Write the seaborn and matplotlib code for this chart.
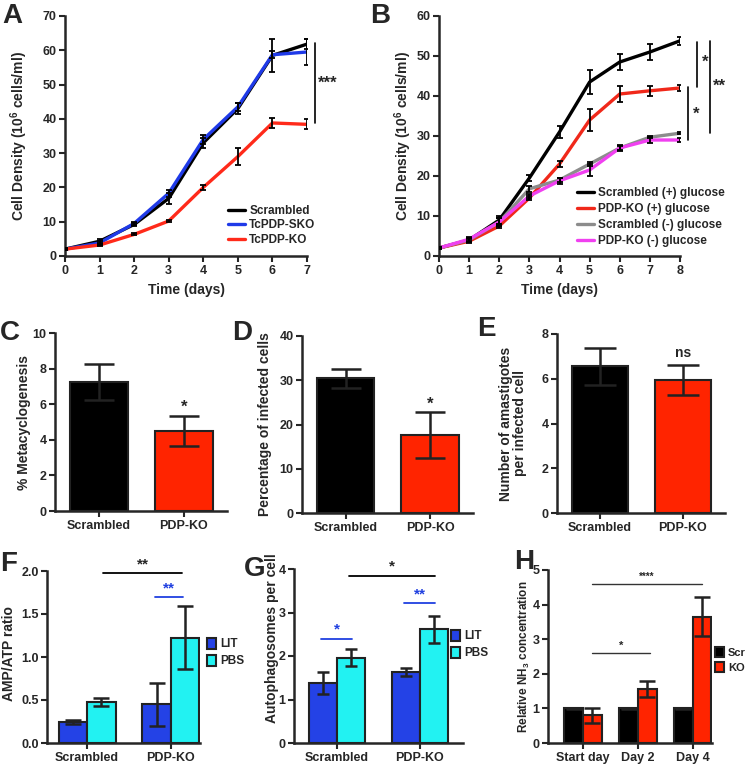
import numpy as np
import pandas as pd
import seaborn as sns
import matplotlib.pyplot as plt

# ---- data ----
days_a = [0, 1, 2, 3, 4, 5, 6, 7]
scr_a = [2, 4.3, 9.2, 16.8, 33, 43, 58.5, 61.8]
scr_a_err = [0.3, 0.6, 0.5, 1.5, 1.5, 1.5, 4.8, 1.4]
sko_a = [2, 3.8, 9.5, 18.3, 34, 43.5, 58.7, 59.5]
sko_a_err = [0.3, 0.5, 0.5, 1.0, 1.2, 1.2, 1.0, 3.8]
ko_a = [2, 3.2, 6.3, 10.2, 20, 29, 38.8, 38.4]
ko_a_err = [0.2, 0.3, 0.3, 0.3, 0.8, 2.5, 1.5, 1.5]

days_b = [0, 1, 2, 3, 4, 5, 6, 7, 8]
scr_glc = [2, 4, 9, 19.5, 31, 43.5, 48.5, 51, 53.8]
scr_glc_err = [0.3, 0.5, 1.0, 0.8, 1.5, 3.0, 2.0, 2.0, 1.0]
ko_glc = [2, 3.7, 7.5, 14.5, 23, 34, 40.5, 41.3, 42]
ko_glc_err = [0.3, 0.5, 0.5, 0.5, 0.8, 2.8, 2.0, 1.2, 0.7]
scr_noglc = [2, 4, 8.5, 16.8, 19, 23, 27, 29.7, 30.7]
scr_noglc_err = [0.3, 0.5, 1.0, 0.8, 0.5, 0.5, 0.5, 0.3, 0.3]
ko_noglc = [2, 4.2, 8.5, 15, 18.8, 21.5, 27, 29, 29]
ko_noglc_err = [0.3, 0.5, 1.0, 0.5, 0.8, 1.5, 0.8, 0.8, 0.6]

strains = ["Scrambled", "PDP-KO"]
metacyclo = [7.25, 4.5]
metacyclo_err = [1.0, 0.83]
infected = [30.4, 17.6]
infected_err = [2.1, 5.2]
amastigotes = [6.55, 5.95]
amastigotes_err = [0.82, 0.67]

media = ["LIT", "PBS"]
amp_atp = {"LIT": [0.245, 0.45], "PBS": [0.476, 1.225]}
amp_atp_err = {"LIT": [0.02, 0.25], "PBS": [0.05, 0.37]}
autoph = {"LIT": [1.38, 1.63], "PBS": [1.96, 2.62]}
autoph_err = {"LIT": [0.25, 0.10], "PBS": [0.19, 0.31]}

nh3_days = ["Start day", "Day 2", "Day 4"]
nh3_groups = ["Scrambled", "KO"]
nh3 = {"Scrambled": [1.0, 1.0, 1.0], "KO": [0.8, 1.56, 3.65]}
nh3_err = {"Scrambled": [0.01, 0.01, 0.01], "KO": [0.22, 0.24, 0.56]}

# ---- style ----
sns.set_style("ticks")
plt.rcParams["font.family"] = ["Liberation Sans Narrow", "Liberation Sans", "DejaVu Sans"]
plt.rcParams["font.weight"] = "bold"
plt.rcParams["axes.labelweight"] = "bold"
plt.rcParams["axes.linewidth"] = 1.8
plt.rcParams["xtick.major.width"] = 1.5
plt.rcParams["ytick.major.width"] = 1.5
plt.rcParams["xtick.major.size"] = 4
plt.rcParams["ytick.major.size"] = 4
plt.rcParams["xtick.major.pad"] = 2.5
plt.rcParams["ytick.major.pad"] = 2
plt.rcParams["xtick.labelsize"] = 9
plt.rcParams["ytick.labelsize"] = 9
plt.rcParams["axes.labelsize"] = 9.5
plt.rcParams["mathtext.default"] = "regular"

W, H = 745, 764
fig = plt.figure(figsize=(W / 100, H / 100), dpi=100)


def add_ax(left, right, top, bottom):
    return fig.add_axes([left / W, 1 - bottom / H, (right - left) / W, (bottom - top) / H])


def fx(x):
    return x / W


def fy(y):
    return 1 - y / H


def ylab(ax, text, xpx, left, right, yfrac=0.5, size=None):
    # xpx is the right edge of the rotated label in figure pixels
    ax.set_ylabel(text, fontsize=size)
    ax.yaxis.set_label_coords((xpx - left) / (right - left), yfrac)


def finish(ax):
    sns.despine(ax=ax)
    for lab in ax.get_xticklabels() + ax.get_yticklabels():
        lab.set_fontweight("bold")


red_bar = "#ff2400"
blue_bar = "#2442e6"
cyan_bar = "#22f2f2"
leg_font = {"weight": "bold", "size": 8.5}

# ---- A ----
axA = add_ax(65, 307, 16, 256)
dfa = pd.DataFrame({
    "day": days_a * 3,
    "density": scr_a + sko_a + ko_a,
    "group": ["Scrambled"] * 8 + ["TcPDP-SKO"] * 8 + ["TcPDP-KO"] * 8,
})
pal_a = {"Scrambled": "black", "TcPDP-SKO": "#1f3ae8", "TcPDP-KO": "#ff2a1a"}
sns.lineplot(data=dfa, x="day", y="density", hue="group", palette=pal_a,
             lw=2.4, ax=axA, errorbar=None)
for y, e in [(scr_a, scr_a_err), (sko_a, sko_a_err), (ko_a, ko_a_err)]:
    axA.errorbar(days_a, y, yerr=e, fmt="none", ecolor="black", elinewidth=1.3,
                 capsize=2.5, capthick=1.3, zorder=5)
axA.set_xlim(0, 7)
axA.set_ylim(0, 70)
axA.set_xticks(range(0, 8))
axA.set_yticks(range(0, 71, 10))
axA.set_xlabel("Time (days)", fontsize=10)
ylab(axA, "Cell Density (10$^6$ cells/ml)", 30, 65, 307)
axA.legend(loc="upper left", bbox_to_anchor=(fx(228), fy(205)), bbox_transform=fig.transFigure,
           frameon=False, borderpad=0, borderaxespad=0, handlelength=1.4, handletextpad=0.4,
           labelspacing=0.2, prop=leg_font)
axA.plot([7.23, 7.23], [38.8, 62], color="black", lw=1.2, clip_on=False)
axA.text(7.32, 50.5, "***", fontsize=12, va="center", ha="left")
finish(axA)

# ---- B ----
axB = add_ax(439, 680, 16, 256)
dfb = pd.DataFrame({
    "day": days_b * 4,
    "density": scr_glc + ko_glc + scr_noglc + ko_noglc,
    "group": ["Scrambled (+) glucose"] * 9 + ["PDP-KO (+) glucose"] * 9
    + ["Scrambled (-) glucose"] * 9 + ["PDP-KO (-) glucose"] * 9,
})
pal_b = {"Scrambled (+) glucose": "black", "PDP-KO (+) glucose": "#f0281a",
         "Scrambled (-) glucose": "#8c8c8c", "PDP-KO (-) glucose": "#f040f0"}
sns.lineplot(data=dfb, x="day", y="density", hue="group", palette=pal_b,
             lw=2.4, ax=axB, errorbar=None)
for y, e in [(scr_glc, scr_glc_err), (ko_glc, ko_glc_err),
             (scr_noglc, scr_noglc_err), (ko_noglc, ko_noglc_err)]:
    axB.errorbar(days_b, y, yerr=e, fmt="none", ecolor="black", elinewidth=1.3,
                 capsize=2.5, capthick=1.3, zorder=5)
axB.set_xlim(0, 8)
axB.set_ylim(0, 60)
axB.set_xticks(range(0, 9))
axB.set_yticks(range(0, 61, 10))
axB.set_xlabel("Time (days)", fontsize=10)
ylab(axB, "Cell Density (10$^6$ cells/ml)", 414, 439, 680)
axB.legend(loc="upper left", bbox_to_anchor=(fx(577), fy(187)), bbox_transform=fig.transFigure,
           frameon=False, borderpad=0, borderaxespad=0, handlelength=1.4, handletextpad=0.4,
           labelspacing=0.35, prop=leg_font)
axB.plot([8.57, 8.57], [42.2, 53.5], color="black", lw=1.2, clip_on=False)
axB.text(8.72, 48.5, "*", fontsize=12, va="center", ha="left")
axB.plot([8.27, 8.27], [29.0, 42.2], color="black", lw=1.2, clip_on=False)
axB.text(8.42, 35.5, "*", fontsize=12, va="center", ha="left")
axB.plot([9.0, 9.0], [30.8, 53.7], color="black", lw=1.2, clip_on=False)
axB.text(9.1, 42.5, "**", fontsize=12, va="center", ha="left")
finish(axB)


# ---- C, D, E ----
def simple_bars(ax, vals, errs, lim, ticks, capsize):
    sns.barplot(x=strains, y=vals, hue=strains, palette=["black", red_bar], width=0.68,
                saturation=1, edgecolor="#222222", linewidth=1.5, legend=False, ax=ax)
    for bar, e in zip(ax.patches, errs):
        cx = bar.get_x() + bar.get_width() / 2
        ax.errorbar([cx], [bar.get_height()], yerr=[e], fmt="none", ecolor="#222222",
                    elinewidth=1.8, capsize=capsize, capthick=1.8, zorder=5)
    ax.set_xlim(-0.52, 1.51)
    ax.set_ylim(*lim)
    ax.set_yticks(ticks)
    ax.set_xlabel("")


axC = add_ax(55, 227, 333, 511)
simple_bars(axC, metacyclo, metacyclo_err, (0, 10), range(0, 11, 2), 10.5)
ylab(axC, "% Metacyclogenesis", 31, 55, 227)
axC.text(1, 5.8, "*", ha="center", va="center", fontsize=12)
finish(axC)

axD = add_ax(302, 473, 336, 513)
simple_bars(axD, infected, infected_err, (0, 40), range(0, 41, 10), 10.5)
ylab(axD, "Percentage of infected cells", 272, 302, 473)
axD.text(1, 24.6, "*", ha="center", va="center", fontsize=12)
finish(axD)

axE = add_ax(557, 725, 334, 513)
simple_bars(axE, amastigotes, amastigotes_err, (0, 8), range(0, 9, 2), 11.5)
ylab(axE, "Number of amastigotes\nper infected cell", 527, 557, 725)
axE.yaxis.label.set_linespacing(1.0)
axE.text(1, 7.15, "ns", ha="center", va="center", fontsize=10)
finish(axE)


# ---- F, G, H ----
def grouped_bars(ax, cats, hues, vals, errs, colors, capsize):
    df = pd.DataFrame({
        "cat": [c for h in hues for c in cats],
        "hue": [h for h in hues for c in cats],
        "val": [v for h in hues for v in vals[h]],
    })
    sns.barplot(data=df, x="cat", y="val", hue="hue", palette=colors, width=0.68,
                saturation=1, edgecolor="#222222", linewidth=1.5, ax=ax)
    for cont, h in zip(ax.containers, hues):
        for bar, e in zip(cont, errs[h]):
            cx = bar.get_x() + bar.get_width() / 2
            ax.errorbar([cx], [bar.get_height()], yerr=[e], fmt="none", ecolor="#222222",
                        elinewidth=1.8, capsize=capsize, capthick=1.8, zorder=5)
    ax.set_xlabel("")


def bar_legend(ax, xpx, ypx, size=8.5):
    sns.move_legend(ax, "upper left", bbox_to_anchor=(fx(xpx), fy(ypx)),
                    bbox_transform=fig.transFigure, frameon=False, title=None,
                    borderpad=0, borderaxespad=0, handlelength=0.8, handleheight=1.0,
                    handletextpad=0.35, labelspacing=0.4,
                    prop={"weight": "bold", "size": size})


axF = add_ax(47, 200, 571, 743)
grouped_bars(axF, strains, media, amp_atp, amp_atp_err, [blue_bar, cyan_bar], 6)
axF.set_xlim(-0.48, 1.35)
axF.set_ylim(0, 2.0)
axF.set_yticks([0, 0.5, 1.0, 1.5, 2.0])
ylab(axF, "AMP/ATP ratio", 16, 47, 200, 0.52)
bar_legend(axF, 207, 638)
axF.plot([0.19, 1.14], [1.98, 1.98], color="black", lw=1.3, clip_on=False)
axF.text(0.665, 2.0, "**", ha="center", va="bottom", fontsize=11)
axF.plot([0.81, 1.15], [1.70, 1.70], color="#2040e0", lw=1.3, clip_on=False)
axF.text(0.98, 1.72, "**", ha="center", va="bottom", fontsize=11, color="#2040e0")
finish(axF)

axG = add_ax(294, 463, 569, 743)
grouped_bars(axG, strains, media, autoph, autoph_err, [blue_bar, cyan_bar], 4.5)
axG.set_xlim(-0.52, 1.52)
axG.set_ylim(0, 4)
axG.set_yticks(range(0, 5))
ylab(axG, "Autophagosomes per cell", 279, 294, 463, 0.6)
bar_legend(axG, 451, 630)
axG.plot([0.145, 1.18], [3.85, 3.85], color="black", lw=1.3, clip_on=False)
axG.text(0.66, 3.9, "*", ha="center", va="bottom", fontsize=11)
axG.plot([-0.19, 0.18], [2.39, 2.39], color="#2040e0", lw=1.3)
axG.text(0.0, 2.44, "*", ha="center", va="bottom", fontsize=11, color="#2040e0")
axG.plot([0.81, 1.18], [3.21, 3.21], color="#2040e0", lw=1.3)
axG.text(0.995, 3.26, "**", ha="center", va="bottom", fontsize=11, color="#2040e0")
finish(axG)

axH = add_ax(548, 712, 570, 743)
grouped_bars(axH, nh3_days, nh3_groups, nh3, nh3_err, ["black", red_bar], 6)
axH.set_xlim(-0.64, 2.35)
axH.set_ylim(0, 5)
axH.set_yticks(range(0, 6))
ylab(axH, "Relative NH$_3$ concentration", 532, 548, 712, 0.5, size=8.5)
bar_legend(axH, 715, 647, size=8)
axH.plot([0.16, 2.16], [4.6, 4.6], color="#333333", lw=1.0)
axH.text(1.16, 4.65, "****", ha="center", va="bottom", fontsize=7)
axH.plot([0.16, 1.22], [2.6, 2.6], color="#333333", lw=1.0)
axH.text(0.69, 2.65, "*", ha="center", va="bottom", fontsize=8)
finish(axH)

# ---- panel letters ----
for letter, x, y in [("A", 2, 3), ("B", 370, 3), ("C", 0, 320), ("D", 232, 320),
                     ("E", 477, 316), ("F", 0, 551), ("G", 244, 556), ("H", 514, 549)]:
    fig.text(fx(x), fy(y), letter, fontsize=20, fontweight="bold", ha="left", va="top")

plt.savefig("out.png", dpi=100)
